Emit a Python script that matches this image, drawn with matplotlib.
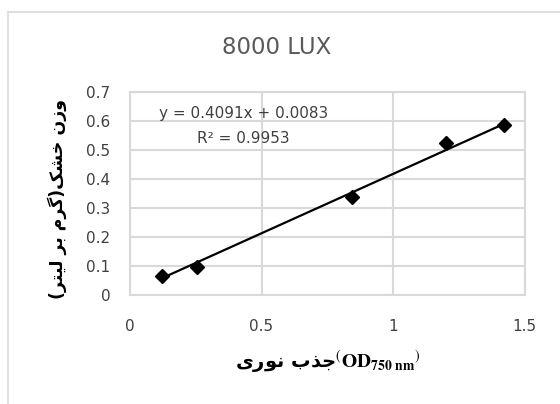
import matplotlib
matplotlib.use("Agg")
import matplotlib.pyplot as plt
from matplotlib.patches import Rectangle
import numpy as np

# ---- data ----
od = [0.12, 0.255, 0.843, 1.200, 1.422]
dry_weight = [0.066, 0.098, 0.338, 0.525, 0.585]
slope, intercept = 0.4091, 0.0083
eq_text = "y = 0.4091x + 0.0083"
r2_text = "R\u00b2 = 0.9953"
title_text = "8000 LUX"
ylabel_fa = "وزن خشک(گرم بر لیتر)"
xlabel_fa = "جذب نوری"
xticks = [0, 0.5, 1, 1.5]
xtick_labels = ["0", "0.5", "1", "1.5"]
yticks = [0, 0.1, 0.2, 0.3, 0.4, 0.5, 0.6, 0.7]
ytick_labels = ["0", "0.1", "0.2", "0.3", "0.4", "0.5", "0.6", "0.7"]

# ---- minimal Persian shaping (presentation forms) + RTL ordering ----
FORMS = {
    'ب': ('\uFE8F', '\uFE90', '\uFE91', '\uFE92'),
    'ت': ('\uFE95', '\uFE96', '\uFE97', '\uFE98'),
    'ج': ('\uFE9D', '\uFE9E', '\uFE9F', '\uFEA0'),
    'خ': ('\uFEA5', '\uFEA6', '\uFEA7', '\uFEA8'),
    'ش': ('\uFEB5', '\uFEB6', '\uFEB7', '\uFEB8'),
    'م': ('\uFEE1', '\uFEE2', '\uFEE3', '\uFEE4'),
    'ن': ('\uFEE5', '\uFEE6', '\uFEE7', '\uFEE8'),
    'ل': ('\uFEDD', '\uFEDE', '\uFEDF', '\uFEE0'),
    'ک': ('\uFB8E', '\uFB8F', '\uFB90', '\uFB91'),
    'گ': ('\uFB92', '\uFB93', '\uFB94', '\uFB95'),
    'ی': ('\uFBFC', '\uFBFD', '\uFBFE', '\uFBFF'),
    'و': ('\uFEED', '\uFEEE', None, None),
    'ز': ('\uFEAF', '\uFEB0', None, None),
    'ر': ('\uFEAD', '\uFEAE', None, None),
    'ذ': ('\uFEAB', '\uFEAC', None, None),
    'د': ('\uFEA9', '\uFEAA', None, None),
    'ا': ('\uFE8D', '\uFE8E', None, None),
}
MIRROR = {'(': ')', ')': '('}


def rtl(s):
    out = []
    for i, c in enumerate(s):
        if c not in FORMS:
            out.append(MIRROR.get(c, c))
            continue
        prev = s[i - 1] if i > 0 else None
        nxt = s[i + 1] if i + 1 < len(s) else None
        iso, fin, ini, med = FORMS[c]
        jp = prev in FORMS and FORMS[prev][2] is not None
        jn = nxt in FORMS and ini is not None
        if jp and jn:
            out.append(med)
        elif jp:
            out.append(fin)
        elif jn:
            out.append(ini)
        else:
            out.append(iso)
    return "".join(reversed(out))


plt.rcParams['mathtext.fontset'] = 'stix'

fig = plt.figure(figsize=(5.6, 4.04), dpi=100)
fig.patch.set_facecolor('white')
# outer chart frame
fig.patches.append(Rectangle((8 / 560, -0.1), 1.2, 1 - 12 / 404 + 0.1,
                             transform=fig.transFigure, fill=False,
                             edgecolor='#d9d9d9', linewidth=1.2))

ax = fig.add_axes([130 / 560, 1 - 295 / 404, 394.5 / 560, 203 / 404])
ax.set_xlim(0, 1.5)
ax.set_ylim(0, 0.7)
ax.set_xticks(xticks)
ax.set_xticklabels(xtick_labels)
ax.set_yticks(yticks)
ax.set_yticklabels(ytick_labels)
ax.grid(True, color='#d9d9d9', linewidth=1.5)
ax.set_axisbelow(True)
for sp in ax.spines.values():
    sp.set_color('#d9d9d9')
    sp.set_linewidth(1.5)
ax.tick_params(length=0, labelsize=11, colors='#404040')
ax.tick_params(axis='y', pad=14)
ax.tick_params(axis='x', pad=17)

xs = np.array([od[0], od[-1]])
ax.plot(xs, slope * xs + intercept, color='black', linewidth=1.6, zorder=3)
ax.plot(od, dry_weight, linestyle='none', marker='D', markersize=7,
        color='black', zorder=4)

ax.text(0.288, 0.895, eq_text, transform=ax.transAxes, ha='center',
        va='center', fontsize=11, color='#404040')
ax.text(0.288, 0.772, r2_text, transform=ax.transAxes, ha='center',
        va='center', fontsize=11, color='#404040')

fig.text(277 / 560, 1 - 47 / 404, title_text, ha='center', va='center',
         fontsize=16.5, color='#595959', fontfamily='DejaVu Sans')

fig.text(57 / 560, 1 - 199 / 404, rtl(ylabel_fa), rotation=90, ha='center',
         va='center', fontsize=12.5, fontweight='bold', color='black',
         fontfamily='DejaVu Sans')

xl = rtl(xlabel_fa) + r"$^{(}\mathbf{OD}_{\mathbf{750\ nm}}{}^{)}$"
fig.text(328 / 560, 1 - 362 / 404, xl, ha='center', va='center',
         fontsize=14, fontweight='bold', color='black',
         fontfamily='DejaVu Sans')

fig.savefig('out.png', dpi=100)
